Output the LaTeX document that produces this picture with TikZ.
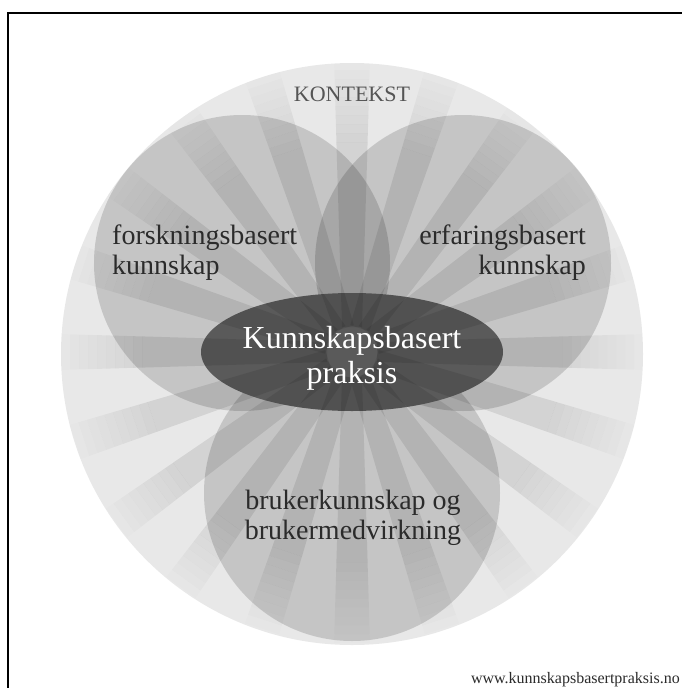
\documentclass[tikz,border=0pt]{standalone}
\usepackage{fontspec}
\setmainfont{Liberation Serif}
\usetikzlibrary{positioning,shapes.geometric}

\definecolor{ringgray}{HTML}{E8E8E8}
\definecolor{coregray}{HTML}{5A5A5A}
\definecolor{textgray}{HTML}{2B2B2B}

\begin{document}
\begin{tikzpicture}[x=1pt, y=-1pt,
				ctxdisc/.style={circle, fill=ringgray, minimum size=582pt, inner sep=0pt},
				knowdisc/.style={circle, fill=black, fill opacity=0.15, minimum size=296pt, inner sep=0pt},
				coredisc/.style={ellipse, fill=coregray, minimum width=302pt, minimum height=118pt, inner sep=0pt},
				raystrip/.style={fill=black, fill opacity=0.09},
				lbltext/.style={text=textgray, inner sep=0pt, font=\fontsize{28}{30}\selectfont}
			]
			\useasboundingbox[fill=white] (0,0) rectangle (682,688);
			\draw[line width=2.2pt] (8,688) -- (8,13) -- (682,13);
			\node[ctxdisc] (ctx) at (352,354) {};
			\node[knowdisc] (forsk) at (242,263) {};
			\node[knowdisc] (erfar) at (463,263) {};
			\node[knowdisc] (bruker) at (352,493) {};
			\node[coredisc] (praksis) at (352,352) {};
			% rays, fading out near the rim
			\begin{scope}
			\clip (ctx.center) circle (291);
			\foreach \a in {0,18,...,342} {
				\begin{scope}[shift={(praksis.center)}, rotate=\a]
				\fill[raystrip] (25,-10) -- (210,-15.6) -- (210,15.6) -- (25,10) -- cycle;
				\foreach \k in {1,...,9} {
					\pgfmathsetmacro\ri{210+9*(\k-1)}
					\pgfmathsetmacro\ro{210+9*\k}
					\pgfmathsetmacro\wi{9.3+7*\ri/235}
					\pgfmathsetmacro\wo{9.3+7*\ro/235}
					\pgfmathsetmacro\op{0.09*(1-\k/10)}
					\fill[raystrip, fill opacity=\op] (\ri,-\wi) -- (\ro,-\wo) -- (\ro,\wo) -- (\ri,\wi) -- cycle;
				}
				\end{scope}
			}
			\end{scope}
			\node[lbltext, text=textgray!80, font=\fontsize{22}{24}\selectfont] (kontekst) [below=24pt of ctx.north] {KONTEKST};
			\node[lbltext, align=left, anchor=west] (forsklabel) at (112,253) {forskningsbasert\\kunnskap};
			\node[lbltext, align=right, anchor=east] (erfarlabel) at (586,253) {erfaringsbasert\\kunnskap};
			\node[lbltext, align=center, text=white, font=\fontsize{32}{35}\selectfont] (prakslabel) at (352,358) {Kunnskapsbasert\\praksis};
			\node[lbltext, align=center] (brukerlabel) at (353,518) {brukerkunnskap og\\brukermedvirkning};
			\node[lbltext, anchor=base east, font=\fontsize{16}{18}\selectfont] (url) at (680,683) {www.kunnskapsbasertpraksis.no};
			\end{tikzpicture}
\end{document}
